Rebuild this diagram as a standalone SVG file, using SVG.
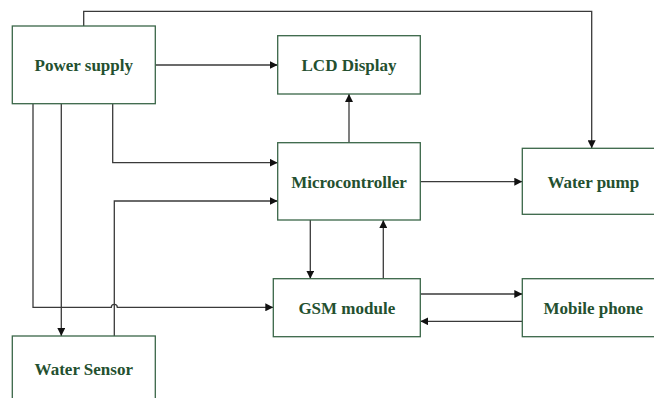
<svg xmlns="http://www.w3.org/2000/svg" width="654" height="398" viewBox="0 0 654 398">
  <defs>
    <marker id="arrow" viewBox="0 0 8 8" refX="8" refY="4" markerWidth="8" markerHeight="8" markerUnits="userSpaceOnUse" orient="auto">
      <path d="M0,0 L8,4 L0,8 Z" fill="#111"/>
    </marker>
    <style>
      .box { fill: #ffffff; stroke: #3a6648; stroke-width: 1.3; }
      .label { font-family: "Liberation Serif", "Times New Roman", serif; font-weight: bold; font-size: 17px; fill: #24502f; text-anchor: middle; }
      .wire { fill: none; stroke: #3a3a3a; stroke-width: 1.3; }
      .wire.arrowed { marker-end: url(#arrow); }
    </style>
  </defs>
  <rect width="654" height="398" fill="#ffffff"/>

  <g id="connectors">
    <!-- supply to pump over the top -->
    <path class="wire arrowed" d="M83.7,26 V11.3 H591.7 V148.3"/>
    <!-- supply to LCD -->
    <path class="wire arrowed" d="M155.3,65 H277.7"/>
    <!-- supply to microcontroller -->
    <path class="wire arrowed" d="M112.7,104 V162.7 H277.7"/>
    <!-- supply to GSM module, hopping over the sensor line -->
    <path class="wire arrowed" d="M33,104 V307.3 H111.3 A3,3 0 0 1 117.3,307.3 H273.3"/>
    <!-- supply to water sensor -->
    <path class="wire arrowed" d="M61.3,104 V336"/>
    <!-- water sensor to microcontroller -->
    <path class="wire arrowed" d="M114.3,336 V201 H277.7"/>
    <!-- microcontroller to LCD -->
    <path class="wire arrowed" d="M349,142.7 V94"/>
    <!-- microcontroller to pump -->
    <path class="wire arrowed" d="M420.3,181.7 H522.3"/>
    <!-- microcontroller to GSM -->
    <path class="wire arrowed" d="M310.3,220 V278.7"/>
    <!-- GSM to microcontroller -->
    <path class="wire arrowed" d="M383.3,278.7 V220"/>
    <!-- GSM to phone -->
    <path class="wire arrowed" d="M420.3,294 H522.3"/>
    <!-- phone to GSM -->
    <path class="wire arrowed" d="M522.3,321.3 H420.3"/>
  </g>

  <g id="power-supply">
    <rect class="box" x="12.3" y="26" width="143" height="77.7"/>
    <text class="label" x="83.8" y="71">Power supply</text>
  </g>
  <g id="lcd-display">
    <rect class="box" x="277.7" y="35.7" width="142.6" height="58.3"/>
    <text class="label" x="349" y="71">LCD Display</text>
  </g>
  <g id="microcontroller">
    <rect class="box" x="277.7" y="142.7" width="142.6" height="77.3"/>
    <text class="label" x="349" y="187.5">Microcontroller</text>
  </g>
  <g id="water-pump">
    <rect class="box" x="522.3" y="148.3" width="142" height="66"/>
    <text class="label" x="593.3" y="187.5">Water pump</text>
  </g>
  <g id="gsm-module">
    <rect class="box" x="273.3" y="278.7" width="147" height="58"/>
    <text class="label" x="346.8" y="313.5">GSM module</text>
  </g>
  <g id="mobile-phone">
    <rect class="box" x="522.3" y="278.7" width="142" height="58"/>
    <text class="label" x="593.3" y="313.5">Mobile phone</text>
  </g>
  <g id="water-sensor">
    <rect class="box" x="12.3" y="336" width="143" height="70"/>
    <text class="label" x="83.8" y="375">Water Sensor</text>
  </g>
</svg>
